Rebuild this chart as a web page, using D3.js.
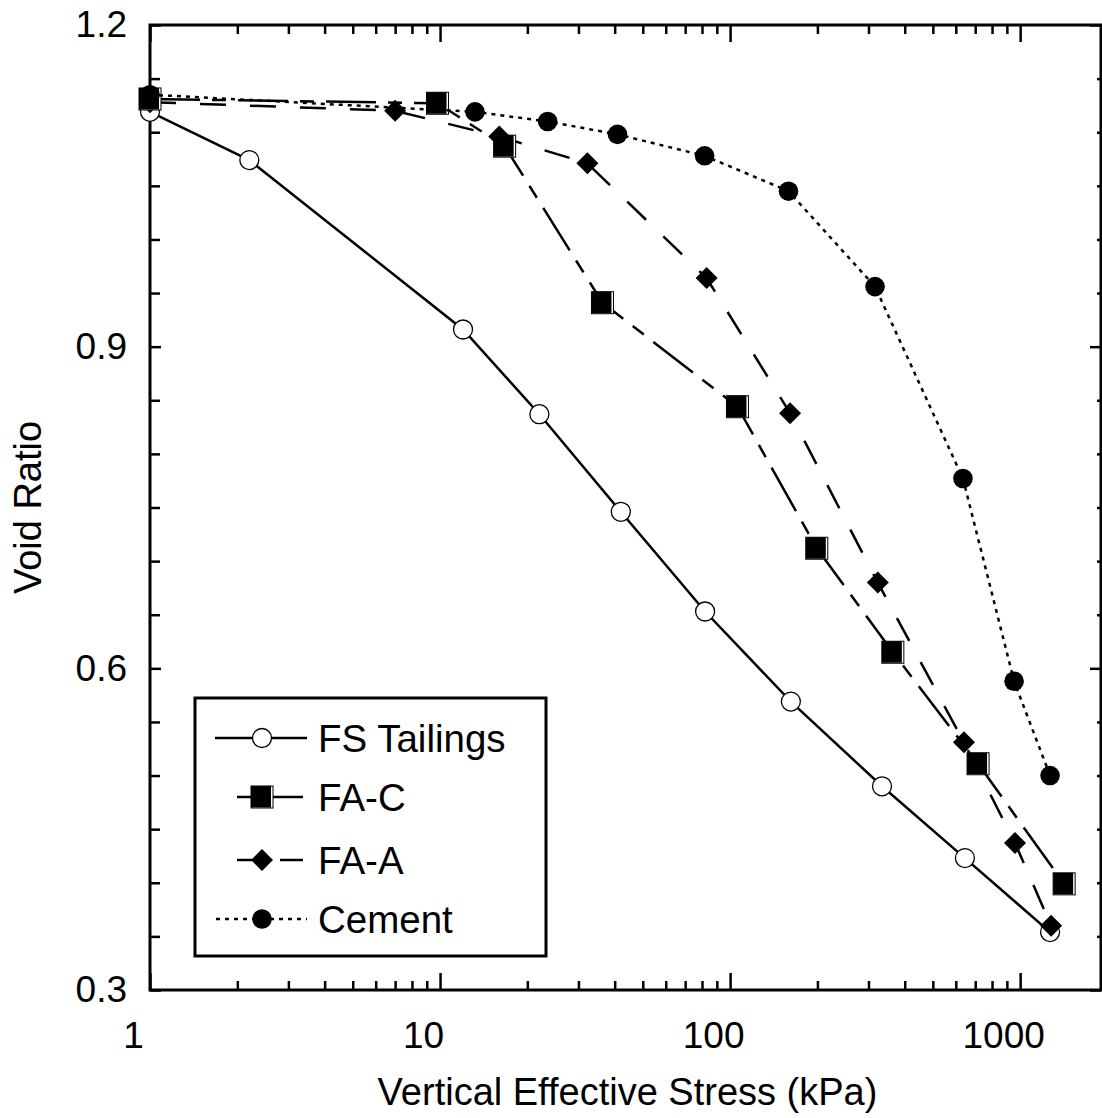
<!DOCTYPE html>
<html>
<head>
<meta charset="utf-8">
<script src="https://cdn.jsdelivr.net/npm/d3@7"></script>
<style>
    body { margin: 0; background: #fff; }
    #chart { width: 1102px; height: 1118px; }
    text { font-family: "Liberation Sans", Arial, sans-serif; fill: #000; }
</style>
</head>
<body>
<div id="chart"></div>
<script>
// Series values (stress in kPa, void ratio)
const fsStress = [1, 2.2, 12, 22, 42, 82, 162, 334, 645, 1268];
const fsVoid = [1.119, 1.074, 0.916, 0.837, 0.746, 0.653, 0.569, 0.490, 0.423, 0.354];

const facStress = [1, 9.8, 16.7, 36.3, 106, 199, 364, 716, 1418];
const facVoid = [1.131, 1.127, 1.087, 0.941, 0.844, 0.712, 0.615, 0.511, 0.399];

const faaStress = [1, 7.0, 16.0, 32.2, 83, 161, 323, 640, 960, 1279];
const faaVoid = [1.128, 1.120, 1.096, 1.071, 0.964, 0.838, 0.680, 0.531, 0.437, 0.360];

const cementStress = [1, 13.2, 23.5, 40.9, 81.7, 159, 316, 635, 953, 1268];
const cementVoid = [1.135, 1.119, 1.110, 1.098, 1.078, 1.045, 0.956, 0.777, 0.588, 0.500];

const seriesNames = ["FS Tailings", "FA-C", "FA-A", "Cement"];

// Axis ticks
const xMajor = [1, 10, 100, 1000];
const xTickLabels = ["1", "10", "100", "1000"];
const yMajor = [0.3, 0.6, 0.9, 1.2];
const yTickLabels = ["0.3", "0.6", "0.9", "1.2"];
const yMinor = [0.35, 0.4, 0.45, 0.5, 0.55, 0.65, 0.7, 0.75, 0.8, 0.85, 0.95, 1.0, 1.05, 1.1, 1.15];

class VoidRatioVis {

    constructor(parentElement) {
        this.parentElement = parentElement;
        this.initVis();
    }

    initVis() {
        let vis = this;

        vis.margin = { top: 25, right: 1, bottom: 128, left: 150 };
        vis.width = 1102 - vis.margin.left - vis.margin.right;
        vis.height = 1118 - vis.margin.top - vis.margin.bottom;

        vis.svg = d3.select("#" + vis.parentElement).append("svg")
            .attr("width", 1102)
            .attr("height", 1118)
            .append("g")
            .attr("transform", `translate(${vis.margin.left}, ${vis.margin.top})`);

        // Scales
        vis.x = d3.scaleLog().domain([1, 1900]).range([0, vis.width]);
        vis.y = d3.scaleLinear().domain([0.3, 1.2]).range([vis.height, 0]);

        // minor log ticks 2..9 per decade
        vis.xMinor = [];
        [1, 10, 100, 1000].forEach(dec => {
            for (let k = 2; k <= 9; k++) {
                if (dec * k < 1900) vis.xMinor.push(dec * k);
            }
        });

        vis.drawAxes();
        vis.drawSeries();
        vis.drawLegend();
    }

    drawAxes() {
        let vis = this;
        let fmtX = d => xTickLabels[xMajor.indexOf(d)];
        let fmtY = d => yTickLabels[yMajor.findIndex(v => Math.abs(v - d) < 1e-9)];

        // bottom
        vis.svg.append("g").attr("class", "axis")
            .attr("transform", `translate(0, ${vis.height})`)
            .call(d3.axisBottom(vis.x).tickValues(xMajor).tickFormat(fmtX).tickSize(-17).tickSizeOuter(0).tickPadding(32))
            .call(g => g.selectAll("text").attr("dx", -17).style("font-size", "37px"));
        vis.svg.append("g").attr("class", "axis")
            .attr("transform", `translate(0, ${vis.height})`)
            .call(d3.axisBottom(vis.x).tickValues(vis.xMinor).tickFormat("").tickSize(-9).tickSizeOuter(0));

        // top
        vis.svg.append("g").attr("class", "axis")
            .call(d3.axisTop(vis.x).tickValues(xMajor).tickFormat("").tickSize(-17).tickSizeOuter(0));
        vis.svg.append("g").attr("class", "axis")
            .call(d3.axisTop(vis.x).tickValues(vis.xMinor).tickFormat("").tickSize(-9).tickSizeOuter(0));

        // left
        vis.svg.append("g").attr("class", "axis")
            .call(d3.axisLeft(vis.y).tickValues(yMajor).tickFormat(fmtY).tickSize(-11).tickSizeOuter(0).tickPadding(23))
            .call(g => g.selectAll("text").style("font-size", "37px"));
        vis.svg.append("g").attr("class", "axis")
            .call(d3.axisLeft(vis.y).tickValues(yMinor).tickFormat("").tickSize(-10).tickSizeOuter(0));

        // right
        vis.svg.append("g").attr("class", "axis")
            .attr("transform", `translate(${vis.width}, 0)`)
            .call(d3.axisRight(vis.y).tickValues(yMajor).tickFormat("").tickSize(-11).tickSizeOuter(0));
        vis.svg.append("g").attr("class", "axis")
            .attr("transform", `translate(${vis.width}, 0)`)
            .call(d3.axisRight(vis.y).tickValues(yMinor).tickFormat("").tickSize(-4).tickSizeOuter(0));

        vis.svg.selectAll(".axis .domain").remove();
        vis.svg.selectAll(".axis line").attr("stroke", "#000").attr("stroke-width", 2.5);
        vis.svg.selectAll(".axis text").attr("fill", "#000").style("font-family", "'Liberation Sans', Arial, sans-serif");

        // frame
        vis.svg.append("rect")
            .attr("width", vis.width)
            .attr("height", vis.height)
            .attr("fill", "none")
            .attr("stroke", "#000")
            .attr("stroke-width", 3);

        // axis titles
        vis.svg.append("text")
            .attr("x", vis.width / 2 + 2)
            .attr("y", vis.height + 115)
            .attr("text-anchor", "middle")
            .style("font-size", "38px")
            .text("Vertical Effective Stress (kPa)");

        vis.svg.append("text")
            .attr("transform", `translate(${28 - vis.margin.left}, ${vis.height / 2}) rotate(-90)`)
            .attr("text-anchor", "middle")
            .attr("dy", "0.35em")
            .style("font-size", "38px")
            .text("Void Ratio");
    }

    // marker drawing helpers
    marker(sel, type) {
        if (type === "openCircle") {
            sel.append("circle").attr("r", 9.5).attr("fill", "#fff").attr("stroke", "#000").attr("stroke-width", 1.3);
        } else if (type === "circle") {
            sel.append("circle").attr("r", 9.8).attr("fill", "#000");
        } else if (type === "square") {
            sel.append("rect").attr("x", -11).attr("y", -11).attr("width", 22).attr("height", 22)
                .attr("fill", "#fff").attr("stroke", "#000").attr("stroke-width", 1);
            sel.append("rect").attr("x", -11).attr("y", -11).attr("width", 20).attr("height", 21.5)
                .attr("fill", "#000");
        } else if (type === "diamond") {
            sel.append("path").attr("d", "M0,-11L11,0L0,11L-11,0Z").attr("fill", "#000");
        }
    }

    drawSeries() {
        let vis = this;

        vis.series = [
            { name: seriesNames[0], stress: fsStress, voids: fsVoid, dash: null, marker: "openCircle" },
            { name: seriesNames[2], stress: faaStress, voids: faaVoid, dash: "26,24", marker: "diamond" },
            { name: seriesNames[1], stress: facStress, voids: facVoid, dash: "50,12,14,12", marker: "square" },
            { name: seriesNames[3], stress: cementStress, voids: cementVoid, dash: "4,5", marker: "circle" }
        ];

        let line = d3.line()
            .x(d => vis.x(d[0]))
            .y(d => vis.y(d[1]));

        vis.series.forEach(s => {
            let pts = s.stress.map((v, i) => [v, s.voids[i]]);

            vis.svg.append("path")
                .datum(pts)
                .attr("d", line)
                .attr("fill", "none")
                .attr("stroke", "#000")
                .attr("stroke-width", 2.5)
                .attr("stroke-dasharray", s.dash);

            vis.svg.selectAll(null)
                .data(pts)
                .enter().append("g")
                .attr("transform", d => `translate(${vis.x(d[0])}, ${vis.y(d[1])})`)
                .each(function () { vis.marker(d3.select(this), s.marker); });
        });
    }

    drawLegend() {
        let vis = this;

        // legend in page coords, shifted into plot group
        let lg = vis.svg.append("g")
            .attr("transform", `translate(${195 - vis.margin.left}, ${698 - vis.margin.top})`);

        lg.append("rect")
            .attr("width", 351)
            .attr("height", 258)
            .attr("fill", "#fff")
            .attr("stroke", "#000")
            .attr("stroke-width", 3);

        let items = [
            { name: seriesNames[0], marker: "openCircle", segs: [[20, 112]], dash: null },
            { name: seriesNames[1], marker: "square", segs: [[42, 57], [78, 108]], dash: null },
            { name: seriesNames[2], marker: "diamond", segs: [[42, 57], [85, 108]], dash: null },
            { name: seriesNames[3], marker: "circle", segs: [[21, 112]], dash: "4,5" }
        ];
        let rowY = [40, 99, 162, 221];

        items.forEach((it, i) => {
            let row = lg.append("g").attr("transform", `translate(0, ${rowY[i]})`);
            it.segs.forEach(sg => {
                row.append("line")
                    .attr("x1", sg[0]).attr("x2", sg[1])
                    .attr("stroke", "#000")
                    .attr("stroke-width", 2.5)
                    .attr("stroke-dasharray", it.dash);
            });
            let m = row.append("g").attr("transform", "translate(67, 0)");
            vis.marker(m, it.marker);
            row.append("text")
                .attr("x", 123)
                .attr("dy", "0.36em")
                .style("font-size", "38.5px")
                .text(it.name);
        });
    }
}

new VoidRatioVis("chart");
</script>
</body>
</html>
